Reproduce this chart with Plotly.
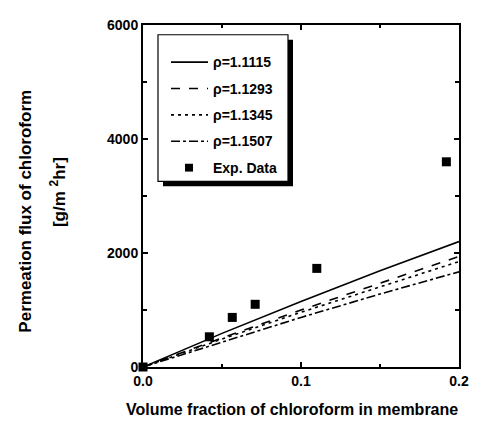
import plotly.graph_objects as go

# model curves
x_model = [0.0, 0.05, 0.1, 0.15, 0.2]
y_1115 = [0, 590, 1150, 1690, 2200]
y_1293 = [0, 510, 1000, 1470, 1940]
y_1345 = [0, 490, 960, 1410, 1850]
y_1507 = [0, 440, 870, 1280, 1670]
# experimental data
x_exp = [0.0, 0.042, 0.0565, 0.071, 0.110, 0.192]
y_exp = [0, 530, 870, 1100, 1730, 3600]

legend_labels = ["\u03c1=1.1115", "\u03c1=1.1293", "\u03c1=1.1345", "\u03c1=1.1507", "Exp. Data"]

FONT = "Liberation Sans, Arial, sans-serif"
OFF = 8  # page body margin
W, H = 500 - OFF, 426 - OFF
L, R, T, B = 143 - OFF, 41, 17 - OFF, 59
pw, ph = W - L - R, H - T - B

def px(xp):
    return (xp - OFF - L) / pw

def py(yp):
    return (OFF + H - B - yp) / ph

fig = go.Figure()
styles = [("solid", y_1115), ("dash", y_1293), ("3px,4px", y_1345), ("dashdot", y_1507)]
for (d, yv), name in zip(styles, legend_labels[:4]):
    fig.add_trace(go.Scatter(x=x_model, y=yv, mode="lines", name=name,
                             line=dict(color="black", width=1.6, dash=d), showlegend=False))
fig.add_trace(go.Scatter(x=x_exp, y=y_exp, mode="markers", name=legend_labels[4],
                         marker=dict(symbol="square", size=9, color="black"),
                         cliponaxis=False, showlegend=False))

axis_common = dict(showline=True, linecolor="black", linewidth=2, mirror="allticks",
                   ticks="inside", ticklen=5, tickwidth=1.5, tickcolor="black",
                   showgrid=False, zeroline=False,
                   tickfont=dict(family=FONT, size=14, color="black", weight="bold"))
fig.update_xaxes(range=[0, 0.2], tickvals=[0, 0.1, 0.2], ticktext=["0.0", "0.1", "0.2"],
                 minor=dict(ticks="inside", ticklen=3, tickwidth=1.5, tickcolor="black",
                            tickvals=[0.05, 0.15]), **axis_common)
fig.update_yaxes(range=[0, 6000], tickvals=[0, 2000, 4000, 6000],
                 minor=dict(ticks="inside", ticklen=4, tickwidth=1.5, tickcolor="black",
                            tickvals=[1000, 3000, 5000]), **axis_common)

shapes = []
ann = []
# legend box with shadow
shapes.append(dict(type="rect", xref="paper", yref="paper", x0=px(163), x1=px(293),
                   y0=py(182), y1=py(32), fillcolor="black", line=dict(width=0), layer="above"))
shapes.append(dict(type="rect", xref="paper", yref="paper", x0=px(158), x1=px(288),
                   y0=py(177), y1=py(27), fillcolor="white", line=dict(color="black", width=1.2),
                   layer="above"))
rows = [55, 82, 109, 136, 163]
for (d, _), yy in zip(styles, rows[:4]):
    shapes.append(dict(type="line", xref="paper", yref="paper", x0=px(171), x1=px(208),
                       y0=py(yy), y1=py(yy), line=dict(color="black", width=1.6, dash=d),
                       layer="above"))
shapes.append(dict(type="rect", xref="paper", yref="paper", x0=px(185), x1=px(193),
                   y0=py(167), y1=py(159), fillcolor="black", line=dict(width=0), layer="above"))
for lab, yy in zip(legend_labels, rows):
    ann.append(dict(text=lab, xref="paper", yref="paper", x=px(211), y=py(yy),
                    xanchor="left", yanchor="middle", showarrow=False,
                    font=dict(family=FONT, size=14, color="black", weight="bold")))

# axis titles
ann.append(dict(text="Volume fraction of chloroform in membrane", xref="paper", yref="paper",
                x=px(292), y=py(410), xanchor="center", yanchor="middle", showarrow=False,
                font=dict(family=FONT, size=16, color="black", weight="bold")))
ann.append(dict(text="Permeation flux of chloroform", xref="paper", yref="paper",
                x=px(26), y=py(208), xanchor="center", yanchor="middle", showarrow=False,
                textangle=-90, font=dict(family=FONT, size=17, color="black", weight="bold")))
ann.append(dict(text="[g/m <sup>2</sup>hr]", xref="paper", yref="paper",
                x=px(58), y=py(188), xanchor="center", yanchor="middle", showarrow=False,
                textangle=-90, font=dict(family=FONT, size=17, color="black", weight="bold")))

fig.update_layout(width=W, height=H, margin=dict(l=L, r=R, t=T, b=B),
                  paper_bgcolor="white", plot_bgcolor="white",
                  shapes=shapes, annotations=ann, showlegend=False)
fig.write_html("out.html")
